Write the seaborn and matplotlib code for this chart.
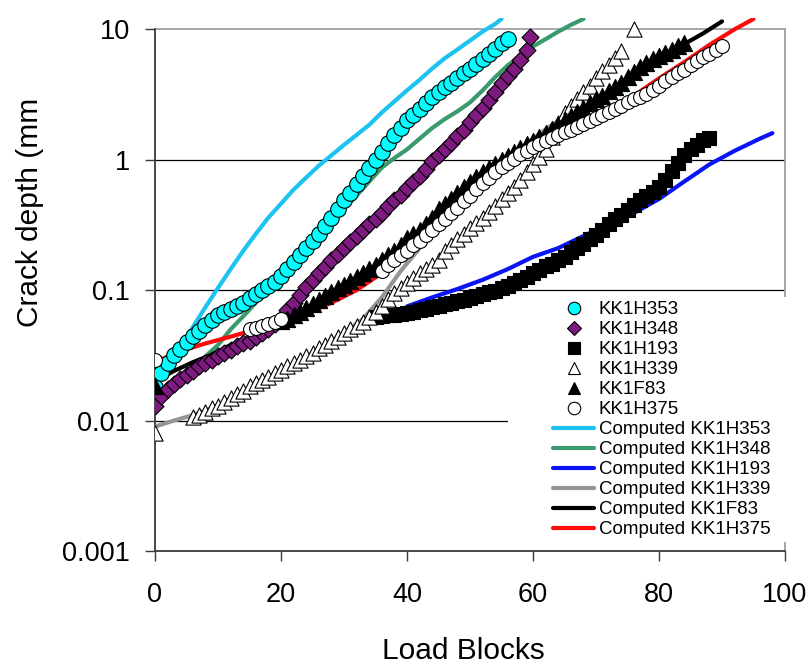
import matplotlib
matplotlib.use("Agg")
import matplotlib.pyplot as plt
import seaborn as sns
from matplotlib.patches import Rectangle
from matplotlib.lines import Line2D
from matplotlib.ticker import FixedLocator, FixedFormatter, NullLocator

# ---------------- data ----------------
x_h353 = list(range(0, 57))
y_h353 = [0.018, 0.023, 0.0275, 0.0316, 0.0355, 0.040, 0.0447, 0.049, 0.054, 0.059,
          0.064, 0.068, 0.072, 0.076, 0.080, 0.087, 0.093, 0.100, 0.107, 0.116,
          0.128, 0.145, 0.163, 0.185, 0.21, 0.24, 0.27, 0.31, 0.36, 0.42,
          0.49, 0.56, 0.65, 0.75, 0.87, 1.0, 1.15, 1.35, 1.55, 1.75,
          2.0, 2.2, 2.45, 2.7, 3.0, 3.3, 3.6, 3.9, 4.2, 4.6,
          5.0, 5.4, 5.9, 6.5, 7.1, 7.8, 8.4]

x_h348 = list(range(0, 60)) + [59.5]
y_h348 = [0.013, 0.0155, 0.0175, 0.019, 0.021, 0.0225, 0.024, 0.026, 0.0275, 0.029,
          0.031, 0.033, 0.035, 0.037, 0.039, 0.041, 0.044, 0.047, 0.050, 0.055,
          0.060, 0.070, 0.080, 0.092, 0.105, 0.12, 0.135, 0.15, 0.17, 0.19,
          0.21, 0.235, 0.26, 0.29, 0.32, 0.35, 0.39, 0.44, 0.49, 0.54,
          0.61, 0.68, 0.75, 0.85, 0.97, 1.08, 1.2, 1.35, 1.52, 1.7,
          1.95, 2.2, 2.5, 2.85, 3.3, 3.9, 4.4, 5.0, 5.8, 6.9, 8.8]

x_h193 = list(range(35, 89))
y_h193 = [0.062, 0.063, 0.064, 0.065, 0.066, 0.067, 0.068, 0.070, 0.072, 0.074,
          0.076, 0.078, 0.080, 0.082, 0.084, 0.087, 0.090, 0.093, 0.096, 0.099,
          0.103, 0.108, 0.113, 0.120, 0.127, 0.135, 0.143, 0.152, 0.160, 0.170,
          0.180, 0.195, 0.21, 0.225, 0.245, 0.265, 0.29, 0.32, 0.35, 0.38,
          0.41, 0.45, 0.49, 0.53, 0.57, 0.62, 0.70, 0.82, 0.95, 1.08,
          1.2, 1.3, 1.42, 1.48]

x_h339 = [0] + list(range(6, 75)) + [76]
y_h339 = [0.008, 0.0106, 0.011, 0.0117, 0.0124, 0.013, 0.014, 0.015, 0.016, 0.017,
          0.0185, 0.0195, 0.0205, 0.0215, 0.023, 0.0245, 0.026, 0.0275, 0.029, 0.031,
          0.033, 0.036, 0.038, 0.041, 0.044, 0.047, 0.050, 0.053, 0.057, 0.062,
          0.068, 0.075, 0.085, 0.095, 0.104, 0.113, 0.124, 0.135, 0.145, 0.157,
          0.17, 0.20, 0.22, 0.245, 0.27, 0.30, 0.33, 0.36, 0.40, 0.44,
          0.50, 0.56, 0.62, 0.70, 0.80, 0.92, 1.05, 1.2, 1.5, 1.9,
          2.3, 2.6, 2.9, 3.3, 3.7, 4.2, 4.8, 5.3, 6.0, 6.8, 10.0]

x_f83 = [0] + list(range(20, 85))
y_f83 = [0.0185, 0.058, 0.060, 0.064, 0.068, 0.073, 0.078, 0.084, 0.090, 0.097,
         0.104, 0.110, 0.118, 0.126, 0.135, 0.145, 0.155, 0.17, 0.185, 0.20,
         0.22, 0.25, 0.27, 0.29, 0.32, 0.36, 0.42, 0.46, 0.50, 0.56,
         0.62, 0.68, 0.74, 0.80, 0.86, 0.93, 1.0, 1.07, 1.15, 1.23,
         1.32, 1.40, 1.50, 1.60, 1.72, 1.85, 2.0, 2.15, 2.32, 2.5,
         2.7, 2.9, 3.1, 3.35, 3.6, 3.9, 4.3, 4.7, 5.1, 5.5,
         5.9, 6.2, 6.6, 7.0, 7.4, 7.9]

x_h375 = [0, 15, 16, 17, 18, 19, 20] + list(range(36, 91))
y_h375 = [0.029, 0.050, 0.051, 0.053, 0.055, 0.057, 0.060,
          0.140, 0.155, 0.17, 0.185, 0.20, 0.22,
          0.24, 0.265, 0.29, 0.32, 0.35, 0.39, 0.43, 0.48, 0.53, 0.60,
          0.66, 0.73, 0.80, 0.88, 0.95, 1.02, 1.10, 1.17, 1.25, 1.32,
          1.40, 1.47, 1.55, 1.63, 1.70, 1.78, 1.87, 1.97, 2.08, 2.2,
          2.33, 2.47, 2.6, 2.75, 2.9, 3.05, 3.2, 3.4, 3.7, 4.0,
          4.3, 4.6, 4.9, 5.3, 5.7, 6.1, 6.5, 7.0, 7.4]

# computed curves
cx_h353 = [0, 2, 4, 6, 8, 10, 12, 14, 16, 18, 20, 22, 24, 26, 28, 30, 32, 34, 36, 38,
           40, 42, 44, 46, 48, 50, 52, 54, 55]
cy_h353 = [0.019, 0.025, 0.036, 0.052, 0.074, 0.104, 0.145, 0.20, 0.27, 0.36,
           0.46, 0.59, 0.73, 0.90, 1.08, 1.3, 1.55, 1.85, 2.3, 2.8,
           3.4, 4.1, 5.0, 6.0, 7.0, 8.2, 9.6, 11.0, 12.0]

cx_h348 = [0, 2, 4, 6, 8, 10, 12, 14, 16, 18, 20, 22, 24, 26, 28, 30, 32, 34, 36, 38,
           40, 42, 44, 46, 48, 50, 52, 54, 56, 58, 60, 62, 64, 66, 68]
cy_h348 = [0.015, 0.018, 0.021, 0.025, 0.031, 0.038, 0.050, 0.063, 0.080, 0.10,
           0.14, 0.18, 0.23, 0.28, 0.34, 0.42, 0.53, 0.68, 0.87, 1.03,
           1.2, 1.45, 1.75, 2.05, 2.35, 2.75, 3.4, 4.3, 5.3, 6.2,
           7.4, 8.4, 9.6, 10.8, 12.0]

cx_h193 = [40, 44, 48, 52, 56, 60, 64, 68, 72, 76, 80, 84, 88, 92, 96, 98]
cy_h193 = [0.075, 0.088, 0.102, 0.12, 0.145, 0.18, 0.21, 0.26, 0.32, 0.39,
           0.50, 0.68, 0.92, 1.17, 1.45, 1.6]

cx_h339 = [0, 3, 6, 10, 14, 18, 22, 26, 30, 33, 36, 39, 42, 45, 48, 51, 54, 57, 60, 63, 66, 69]
cy_h339 = [0.009, 0.010, 0.011, 0.013, 0.0165, 0.021, 0.027, 0.035, 0.047, 0.060,
           0.088, 0.14, 0.21, 0.31, 0.43, 0.60, 0.85, 1.1, 1.45, 1.85, 2.2, 2.5]

cx_f83 = [0, 3, 6, 9, 12, 15, 18, 21, 24, 27, 30, 33, 36, 39, 42, 45, 48, 51, 54, 57,
          60, 63, 66, 69, 72, 75, 78, 81, 84, 87, 90]
cy_f83 = [0.020, 0.024, 0.028, 0.032, 0.038, 0.043, 0.050, 0.058, 0.070, 0.085,
          0.105, 0.13, 0.165, 0.21, 0.28, 0.38, 0.50, 0.65, 0.82, 1.05,
          1.3, 1.65, 2.1, 2.6, 3.3, 4.1, 5.1, 6.3, 7.7, 9.3, 11.5]

cx_h375 = [0, 4, 8, 12, 16, 20, 24, 28, 32, 36, 40, 44, 48, 52, 56, 60, 64, 68, 72, 76,
           80, 84, 88, 92, 95]
cy_h375 = [0.028, 0.034, 0.039, 0.044, 0.050, 0.056, 0.066, 0.080, 0.10, 0.135,
           0.19, 0.27, 0.41, 0.60, 0.87, 1.2, 1.55, 1.95, 2.5, 3.1,
           4.2, 5.6, 7.6, 10.0, 12.0]

meas_labels = ["KK1H353", "KK1H348", "KK1H193", "KK1H339", "KK1F83", "KK1H375"]
comp_labels = ["Computed KK1H353", "Computed KK1H348", "Computed KK1H193",
               "Computed KK1H339", "Computed KK1F83", "Computed KK1H375"]
y_ticks = [0.001, 0.01, 0.1, 1, 10]
y_tick_labels = ["0.001", "0.01", "0.1", "1", "10"]
x_ticks = [0, 20, 40, 60, 80, 100]
x_tick_labels = ["0", "20", "40", "60", "80", "100"]

# ---------------- styling ----------------
sns.set_theme(style="white")
plt.rcParams['font.family'] = ['Liberation Sans', 'DejaVu Sans']
plt.rcParams['text.color'] = 'black'
plt.rcParams['axes.labelcolor'] = 'black'

fig = plt.figure(figsize=(8.1, 6.66), dpi=100)
ax = fig.add_axes([155 / 810, 1 - 551 / 666, 630 / 810, (551 - 18) / 666])

ax.set_yscale("log")
ax.set_xlim(0, 100)
ax.set_ylim(0.001, 10 ** (1 + 11.3 / 130.4))

line_specs = [
    (cx_h353, cy_h353, "#1CC3F0"),
    (cx_h348, cy_h348, "#3A9A6C"),
    (cx_h193, cy_h193, "#0A14F5"),
    (cx_h339, cy_h339, "#959595"),
    (cx_f83, cy_f83, "#000000"),
    (cx_h375, cy_h375, "#FF0A0A"),
]
for xs, ys, c in line_specs:
    sns.lineplot(x=xs, y=ys, color=c, linewidth=3.0, ax=ax, sort=False,
                 estimator=None, legend=False, zorder=3)

marker_specs = [
    (x_h353, y_h353, "o", "#00FFFF", 125),
    (x_h348, y_h348, "D", "#7F1A80", 75),
    (x_h193, y_h193, "s", "#000000", 100),
    (x_h339, y_h339, "^", "#FFFFFF", 120),
    (x_f83, y_f83, "^", "#000000", 135),
    (x_h375, y_h375, "o", "#FFFFFF", 100),
]
for xs, ys, m, fc, s in marker_specs:
    sns.scatterplot(x=xs, y=ys, marker=m, color=fc, edgecolor="black",
                    linewidth=0.8, s=s, ax=ax, legend=False, zorder=4)

# gridlines at decades (black), border
for yv in y_ticks[1:-1]:
    ax.axhline(yv, color="black", linewidth=0.9, zorder=1)
ax.axhline(10, color="#9A9A9A", linewidth=1.2, zorder=1)

ax.spines["top"].set_visible(False)
ax.spines["right"].set_color("#9A9A9A")
ax.spines["right"].set_bounds(0.001, 10)
ax.spines["left"].set_bounds(0.001, 10)
for sp in ("left", "bottom"):
    ax.spines[sp].set_color("#3A3A3A")
    ax.spines[sp].set_linewidth(1.3)

ax.yaxis.set_major_locator(FixedLocator(y_ticks))
ax.yaxis.set_major_formatter(FixedFormatter(y_tick_labels))
ax.yaxis.set_minor_locator(NullLocator())
ax.xaxis.set_major_locator(FixedLocator(x_ticks))
ax.xaxis.set_major_formatter(FixedFormatter(x_tick_labels))
ax.tick_params(axis="both", which="major", direction="out", length=7, width=1.0,
               color="#3A3A3A", labelsize=19.5, labelcolor="black",
               left=True, bottom=True)
ax.tick_params(axis="y", pad=11)
ax.tick_params(axis="x", pad=15)

fig.text(0.572, 1 - 651 / 666, "Load Blocks", ha="center", va="center",
         fontsize=21.5, color="black")
fig.text(30 / 810, 1 - 212 / 666, "Crack depth (mm", ha="center", va="center",
         rotation=90, fontsize=21.5, color="black")

# white legend background covering gridline / right spine
ax.add_patch(Rectangle((508 / 810, 1 - 542 / 666), 300 / 810, 245 / 666,
                       transform=fig.transFigure, facecolor="white",
                       edgecolor="none", zorder=5, clip_on=False))

handles = []
for (xs, ys, m, fc, s) in marker_specs:
    handles.append(Line2D([], [], linestyle="none", marker=m,
                          markersize=(7 if m == "D" else 9),
                          markerfacecolor=fc, markeredgecolor="black", markeredgewidth=0.8))
for (xs, ys, c) in line_specs:
    handles.append(Line2D([], [], color=c, linewidth=3.0))
leg = fig.legend(handles, meas_labels + comp_labels, loc="upper left",
                 bbox_to_anchor=(553 / 810, 1 - 301 / 666), frameon=False,
                 fontsize=13.5, handlelength=2.2, handletextpad=0.25,
                 labelspacing=0.155, borderpad=0.0, borderaxespad=0.0)
for t in leg.get_texts():
    t.set_color("black")
leg.set_zorder(6)

fig.savefig("out.png", dpi=100)
